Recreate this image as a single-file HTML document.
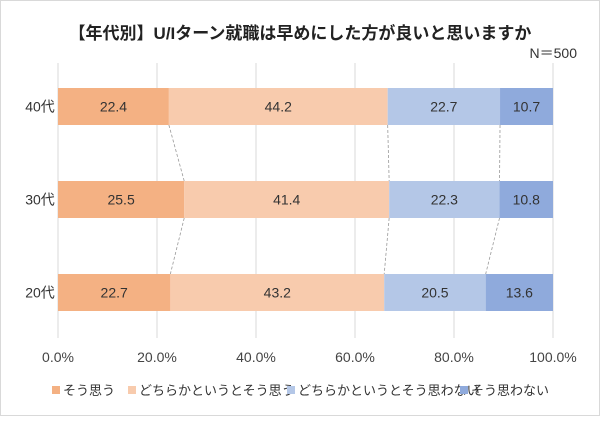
<!DOCTYPE html>
<html><head><meta charset="utf-8"><style>
html,body{margin:0;padding:0;background:#fff}
svg text{font-family:"Liberation Sans","Noto Sans CJK JP",sans-serif}
</style></head><body>
<svg width="600" height="416" viewBox="0 0 600 416" xmlns="http://www.w3.org/2000/svg">
<rect x="0.5" y="0.5" width="599" height="415" fill="#fff" stroke="#d9d9d9"/>
<text x="300" y="39" text-anchor="middle" font-size="17" font-weight="bold" fill="#222">【年代別】U/Iターン就職は早めにした方が良いと思いますか</text>
<text x="577" y="58" text-anchor="end" font-size="14" fill="#333">N＝500</text>
<g id="grid"></g><g id="conn"></g><g id="bars"></g><g id="ticks"></g><g id="legend"></g>
</svg>
<script>
const categories=["40代","30代","20代"];
const seriesNames=["そう思う","どちらかというとそう思う","どちらかというとそう思わない","そう思わない"];
const s1=[22.4,25.5,22.7];
const s2=[44.2,41.4,43.2];
const s3=[22.7,22.3,20.5];
const s4=[10.7,10.8,13.6];
const tickValues=[0,20,40,60,80,100];
const colors=["#F4B183","#F8CBAD","#B4C7E7","#8FAADC"];
const NS="http://www.w3.org/2000/svg";
const x0=58,x1=553,barH=37;
const rowY=[88,181,274];
const xs=v=>x0+(x1-x0)*v/100;
function mk(t,a,p){const e=document.createElementNS(NS,t);for(const k in a)e.setAttribute(k,a[k]);p.appendChild(e);return e;}
const grid=document.getElementById('grid'),bars=document.getElementById('bars'),ticks=document.getElementById('ticks'),conn=document.getElementById('conn'),leg=document.getElementById('legend');
tickValues.forEach(v=>{
 const l=mk('line',{x1:xs(v),x2:xs(v),y1:63,y2:338,stroke:'#d9d9d9','stroke-width':1},grid);
 
 
 const t=mk('text',{x:xs(v),y:362,'text-anchor':'middle','font-size':14,fill:'#444'},ticks);
 t.textContent=v.toFixed(1)+'%';
 
 
});
const series=[s1,s2,s3,s4];
const ends=categories.map((c,i)=>{let acc=0;return series.map(s=>{acc+=s[i];return acc;});});
for(let i=0;i<categories.length-1;i++){
 for(let k=0;k<3;k++){
  const l=mk('line',{x1:xs(ends[i][k]),x2:xs(ends[i+1][k]),y1:rowY[i]+barH,y2:rowY[i+1],stroke:'#999','stroke-width':0.8,'stroke-dasharray':'3,2'},conn);
  
  
 }
}
categories.forEach((c,i)=>{
 const lab=mk('text',{x:40,y:rowY[i]+barH/2+5,'text-anchor':'middle','font-size':14,fill:'#333'},bars);
 lab.textContent=c;
 
 
 let acc=0;
 series.forEach((s,k)=>{
  const r=mk('rect',{x:xs(acc),y:rowY[i],width:xs(acc+s[i])-xs(acc),height:barH,fill:colors[k]},bars);
  
  
  const t=mk('text',{x:xs(acc+s[i]/2),y:rowY[i]+barH/2+5,'text-anchor':'middle','font-size':14,fill:'#333'},bars);
  t.textContent=s[i].toFixed(1);
  
  
  acc+=s[i];
 });
});
const legX=[52,128,287,460];
seriesNames.forEach((n,k)=>{
 const r=mk('rect',{x:legX[k],y:386,width:8,height:8,fill:colors[k]},leg);
 
 
 const t=mk('text',{x:legX[k]+11,y:395,'font-size':13,fill:'#333'},leg);
 t.textContent=n;
 
 
});
</script>
</body></html>
